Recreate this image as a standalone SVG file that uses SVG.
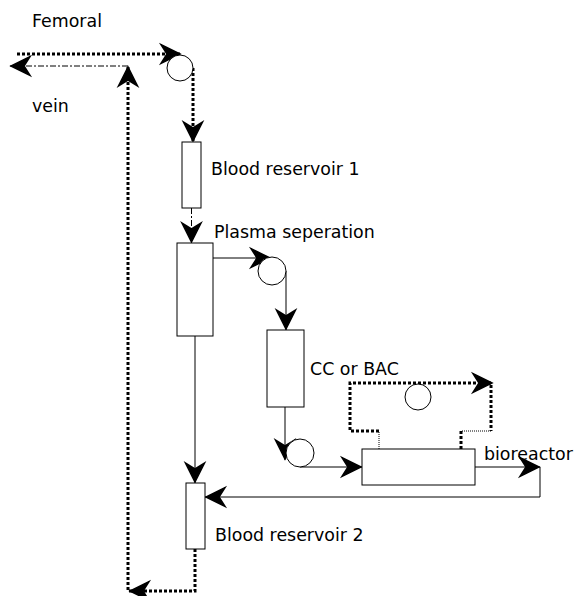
<svg xmlns="http://www.w3.org/2000/svg" width="578" height="596" viewBox="0 0 578 596">
<style>
text{font-family:"DejaVu Sans",Verdana,sans-serif;font-size:17.4px;fill:#000}
.box{fill:#fff;stroke:#000;stroke-width:1}
.pump{fill:#fff;stroke:#000;stroke-width:1}
.solid{fill:none;stroke:#000;stroke-width:1}
.dot{fill:none;stroke:#000;stroke-width:3;stroke-dasharray:3 2}
.thin{fill:none;stroke:#000;stroke-width:1;stroke-dasharray:1 1}
.dd{fill:none;stroke:#000;stroke-width:1;stroke-dasharray:6 2 2 2}
</style>
<defs>
<marker id="ah" markerUnits="userSpaceOnUse" markerWidth="30" markerHeight="30" viewBox="-25 -15 30 30" refX="0" refY="0" orient="auto" overflow="visible">
<path d="M-1,0 L-20,-9.5 L-14,0 L-20,9.5 Z" fill="#000" stroke="#000" stroke-width="1.5" stroke-linejoin="miter"/>
</marker>
</defs>
<g id="connectors">
<path class="dot" d="M17,54 H181" marker-end="url(#ah)"/>
<path class="dot" d="M193,68 V142" marker-end="url(#ah)"/>
<path class="dd" d="M191.5,208 V243" marker-end="url(#ah)"/>
<path class="solid" d="M213,258 H271" marker-end="url(#ah)"/>
<path class="solid" d="M286,271 V330" marker-end="url(#ah)"/>
<path class="solid" d="M285,407 V460" marker-end="url(#ah)"/>
<path class="solid" d="M300,467 H362" marker-end="url(#ah)"/>
<path class="solid" d="M475,467 H540" marker-end="url(#ah)"/>
<path class="solid" d="M540,467 V497 H205" marker-end="url(#ah)"/>
<path class="solid" d="M195,336 V483" marker-end="url(#ah)"/>
<path class="dot" d="M195,549 V591 H129" marker-end="url(#ah)"/>
<path class="dot" d="M128,590 V66" marker-end="url(#ah)"/>
<path class="dd" d="M128,66 H10" marker-end="url(#ah)"/>
<path class="thin" d="M379,449 V431"/>
<path class="dot" d="M379,431 H350 V383 H493" marker-end="url(#ah)"/>
<path class="dot" d="M491,385 V431"/>
<path class="thin" d="M491,431 H461"/>
<path class="dot" d="M461,431 V449"/>
</g>
<g id="pump1"><circle class="pump" cx="180" cy="68" r="13"/></g>
<g id="reservoir1"><rect class="box" x="182" y="142" width="19" height="66"/><text x="211" y="175">Blood reservoir 1</text></g>
<g id="plasma"><rect class="box" x="177" y="243" width="36" height="93"/><text x="214" y="238">Plasma seperation</text></g>
<g id="pump2"><circle class="pump" cx="272" cy="271" r="14"/></g>
<g id="cc"><rect class="box" x="267" y="330" width="37" height="77"/><text x="310" y="375">CC or BAC</text></g>
<g id="pump3"><circle class="pump" cx="300" cy="453" r="14"/></g>
<g id="bioreactor"><rect class="box" x="362" y="449" width="113" height="36"/><text x="484" y="460">bioreactor</text></g>
<g id="pump4"><circle class="pump" cx="418" cy="397" r="13"/></g>
<g id="reservoir2"><rect class="box" x="186" y="483" width="19" height="66"/><text x="215" y="541">Blood reservoir 2</text></g>
<g id="femoral"><text x="32" y="27">Femoral</text></g>
<g id="vein"><text x="32" y="112">vein</text></g>
</svg>
